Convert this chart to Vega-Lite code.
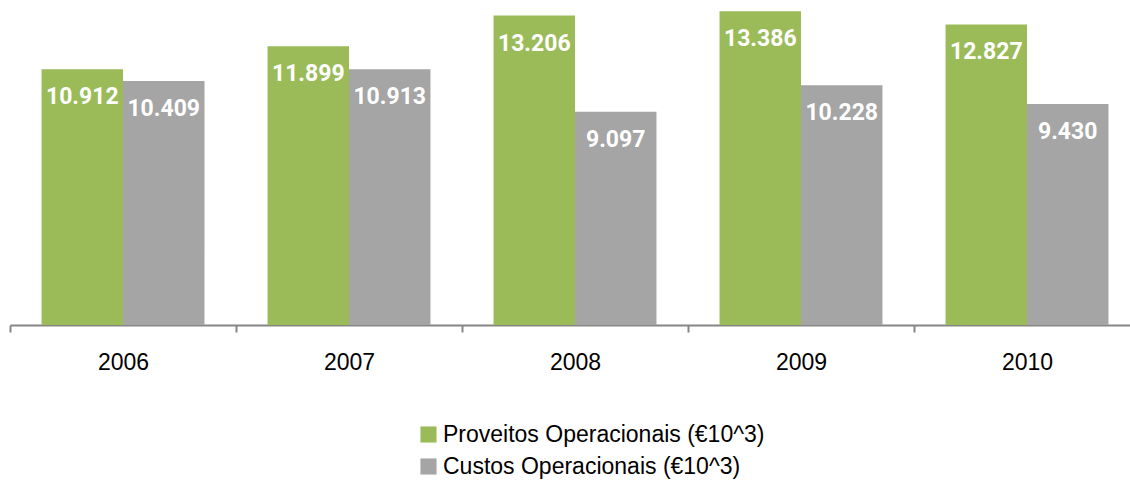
{
  "$schema": "https://vega.github.io/schema/vega-lite/v6.json",
  "autosize": "none",
  "width": 1120,
  "height": 325,
  "padding": {"left": 10, "top": 0, "right": 0, "bottom": 156},
  "background": "white",
  "config": {"view": {"stroke": null}},
  "data": {"values": [
    {"year": "2006", "series": "Proveitos Operacionais (€10^3)", "value": 10.912},
    {"year": "2006", "series": "Custos Operacionais (€10^3)", "value": 10.409},
    {"year": "2007", "series": "Proveitos Operacionais (€10^3)", "value": 11.899},
    {"year": "2007", "series": "Custos Operacionais (€10^3)", "value": 10.913},
    {"year": "2008", "series": "Proveitos Operacionais (€10^3)", "value": 13.206},
    {"year": "2008", "series": "Custos Operacionais (€10^3)", "value": 9.097},
    {"year": "2009", "series": "Proveitos Operacionais (€10^3)", "value": 13.386},
    {"year": "2009", "series": "Custos Operacionais (€10^3)", "value": 10.228},
    {"year": "2010", "series": "Proveitos Operacionais (€10^3)", "value": 12.827},
    {"year": "2010", "series": "Custos Operacionais (€10^3)", "value": 9.43}
  ]},
  "encoding": {
    "x": {
      "field": "year", "type": "nominal", "title": null,
      "scale": {"range": [0, 1130], "paddingInner": 0, "paddingOuter": 0},
      "axis": {
        "labelAngle": 0, "labelFont": "Liberation Sans", "labelFontSize": 23, "labelColor": "#000000",
        "labelPadding": 19, "domainColor": "#868686", "domainWidth": 2, "tickColor": "#868686",
        "tickWidth": 2, "tickSize": 7, "tickBand": "extent"
      }
    },
    "xOffset": {
      "field": "series", "type": "nominal",
      "sort": ["Proveitos Operacionais (€10^3)", "Custos Operacionais (€10^3)"],
      "scale": {"paddingOuter": 0.387, "paddingInner": 0}
    },
    "y": {
      "field": "value", "type": "quantitative",
      "scale": {"domain": [0, 13.87], "nice": false, "zero": true},
      "axis": null
    }
  },
  "layer": [
    {
      "mark": {"type": "bar"},
      "encoding": {
        "color": {
          "field": "series", "type": "nominal", "title": null,
          "scale": {"domain": ["Proveitos Operacionais (€10^3)", "Custos Operacionais (€10^3)"], "range": ["#9BBB59", "#A5A5A5"]},
          "legend": {
            "orient": "none", "legendX": 407, "legendY": 423,
            "symbolType": "square", "symbolSize": 260, "symbolStrokeWidth": 0,
            "labelFont": "Liberation Sans", "labelFontSize": 23, "labelColor": "#000000",
            "labelLimit": 500, "rowPadding": 8, "labelOffset": 3
          }
        }
      }
    },
    {
      "mark": {"type": "text", "baseline": "alphabetic", "dy": 35, "color": "white", "font": "Roboto", "fontWeight": "bold", "fontSize": 23},
      "encoding": {
        "text": {"field": "value", "type": "quantitative", "format": ".3f"}
      }
    }
  ]
}
